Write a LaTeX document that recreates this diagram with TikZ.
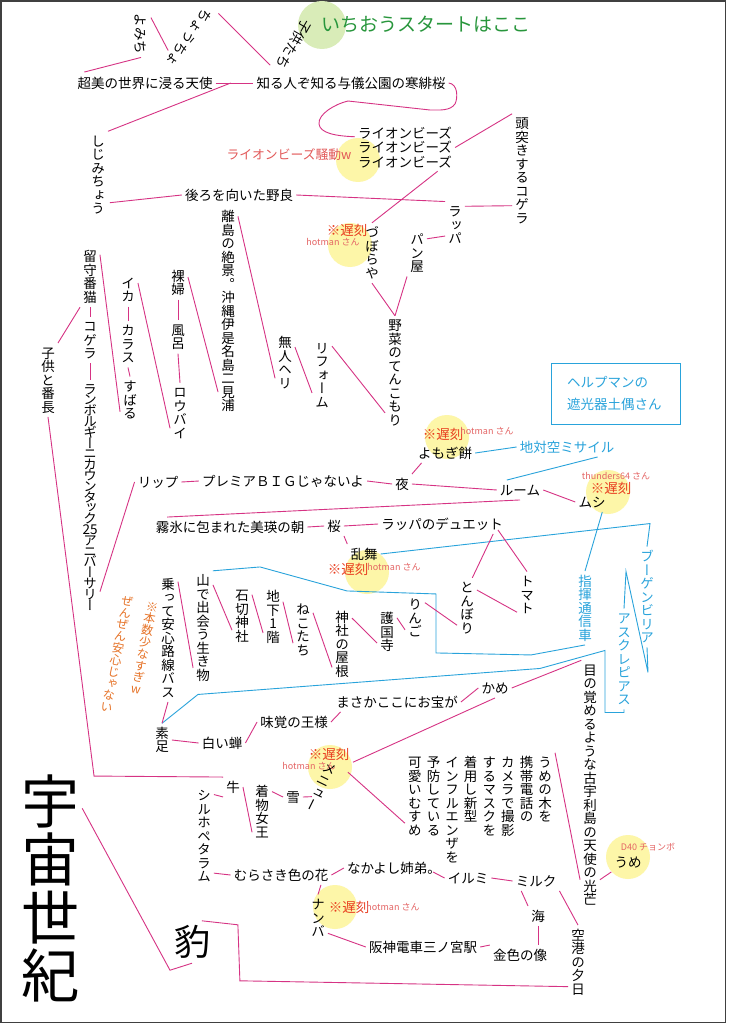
\documentclass[tikz,border=0pt]{standalone}
\usepackage{fontspec}
\setmainfont{Noto Sans CJK JP}
\newfontfamily\vjp[RawFeature=+vert]{Noto Sans CJK JP}
\usetikzlibrary{calc}
\definecolor{mag}{RGB}{214,51,132}
\definecolor{cyn}{RGB}{41,163,219}
\definecolor{latec}{RGB}{232,60,30}
\definecolor{hotc}{RGB}{228,100,100}
\definecolor{hotc2}{RGB}{226,88,88}
\definecolor{orgc}{RGB}{230,115,40}
\definecolor{grn}{RGB}{40,150,60}
\definecolor{grncirc}{RGB}{217,236,184}
\definecolor{ylw}{RGB}{253,246,168}
\makeatletter
\newdimen\vt@h \newdimen\vt@d \newdimen\vt@s
\newcommand\vtxt[2][1em]{%
  \vtop{\offinterlineskip\vjp
    \vt@s=#1\relax
    \vt@h=\dimexpr 0.38em+0.5\vt@s\relax
    \vt@d=\dimexpr 0.5\vt@s-0.38em\relax
    \@tfor\vt@c:=#2\do{%
      \setbox\z@\hbox to 1em{\hss\vt@c\hss}%
      \ht\z@=\vt@h \dp\z@=\vt@d
      \box\z@}}}
\makeatother
\tikzset{
  hw/.style={font=\fontsize{13.5}{15}\selectfont, inner sep=3pt, text height=11.9pt, text depth=1.6pt},
  vw/.style={font=\fontsize{13.5}{15}\selectfont, inner sep=3pt},
  con/.style={draw=mag, line width=0.9pt},
  bcon/.style={draw=cyn, line width=0.9pt},
  latelbl/.style={text=latec, font=\fontsize{13.5}{15}\selectfont, inner sep=0pt},
  hotlbl/.style={text=hotc, font=\fontsize{9}{10}\selectfont, inner sep=0pt},
  orgnote/.style={text=orgc, font=\fontsize{12}{13}\selectfont, inner sep=0pt, rotate=-11},
}
\begin{document}
\begin{tikzpicture}[x=1pt,y=-1pt]
\useasboundingbox (0,0) rectangle (728,1024);
\fill[white] (0,0) rectangle (728,1024);
\draw[line width=1.3pt, black!75] (1,1) rectangle (725.5,1022.5);
% highlight circles
\fill[grncirc] (322,25) circle[radius=24pt];
\foreach \p in {(358,160),(350,245),(447,437),(367,572),(608,492),(330,767),(335,907),(628,857)}
  \fill[ylw] \p circle[radius=22pt];
% nodes
\node[text=grn, font=\fontsize{19}{21}\selectfont, inner sep=0pt] (start) at (426,24) {いちおうスタートはここ};
\node[hw, rotate=-120] (kodomo) at (294,44) {子供たち};
\node[hw, rotate=-125] (chou) at (189,38) {ちょうちょ};
\node[hw, rotate=-90] (yomichi) at (141,34) {よみち};
\node[hw] (tenshi) at (145,83) {超美の世界に浸る天使};
\node[hw] (shiru) at (351,83) {知る人ぞ知る与儀公園の寒緋桜};
\node[vw] (shijimi) at (98,175) {\vtxt{しじみちょう}};
\node[hw] (ushiro) at (239,195) {後ろを向いた野良};
\node[font=\fontsize{13.5}{14.5}\selectfont, align=center, inner sep=3pt] (lion) at (405,147.5) {ライオンビーズ\\ライオンビーズ\\ライオンビーズ};
\node[text=hotc2, font=\fontsize{12.8}{14}\selectfont, inner sep=0pt] (liontxt) at (289,155) {ライオンビーズ騒動w};
\node[vw] (zutsuki) at (522,171) {\vtxt{頭突きするコゲラ}};
\node[vw] (rappa) at (455,225) {\vtxt{ラッパ}};
\node[vw] (zubora) at (372,253) {\vtxt{づぼらや}};
\node[vw] (panya) at (417,253) {\vtxt{パン屋}};
\node[vw] (yasai) at (395,373) {\vtxt{野菜のてんこもり}};
\node[vw] (reform) at (322,375) {\vtxt{リフォーム}};
\node[vw] (mujin) at (285,363) {\vtxt{無人ヘリ}};
\node[vw] (ritou) at (228,311) {\vtxt{離島の絶景。沖縄伊是名島二見浦}};
\node[vw] (rafu) at (178,283) {\vtxt{裸婦}};
\node[vw] (furo) at (178,337) {\vtxt{風呂}};
\node[vw] (roubai) at (180,413) {\vtxt{ロウバイ}};
\node[vw] (ika) at (128,290) {\vtxt{イカ}};
\node[vw] (karasu) at (128,344) {\vtxt{カラス}};
\node[vw] (subaru) at (130,400) {\vtxt{すばる}};
\node[vw] (rusuban) at (90,277) {\vtxt{留守番猫}};
\node[vw] (kogera) at (90,340) {\vtxt{コゲラ}};
\node[vw] (kodomoban) at (48,380) {\vtxt{子供と番長}};
\node[vw] (lambo) at (90,497) {\vtxt[0.8em]{ランボルギーニカウンタック{25}アニバーサリー}};
\node[hw] (lip) at (158,482) {リップ};
\node[hw] (premia) at (283,481) {プレミアＢＩＧじゃないよ};
\node[hw] (yoru) at (402,484) {夜};
\node[hw] (yomogi) at (445,453) {よもぎ餅};
\node[hw, text=cyn] (chitai) at (567,447) {地対空ミサイル};
\node[hw] (room) at (520,490) {ルーム};
\node[hw] (mushi) at (592,502) {ムシ};
\node[hw] (muhyou) at (230,527) {霧氷に包まれた美瑛の朝};
\node[hw] (sakura) at (334,526) {桜};
\node[hw] (duet) at (442,524) {ラッパのデュエット};
\node[hw] (ranbu) at (364,554) {乱舞};
\node[vw, text=cyn] (bougain) at (647,597) {\vtxt{ブーゲンビリア}};
\node[vw, text=cyn] (ascle) at (624,659) {\vtxt{アスクレピアス}};
\node[vw, text=cyn] (shiki) at (585,608) {\vtxt{指揮通信車}};
\node[draw=cyn, line width=1pt, text=cyn, font=\fontsize{13.5}{22}\selectfont, align=left, text width=97pt, inner xsep=16pt, minimum height=61pt] (help) at (615.5,393.5) {ヘルプマンの\\遮光器土偶さん};
\node[vw] (yama) at (203,628) {\vtxt{山で出会う生き物}};
\node[vw] (noru) at (168,638) {\vtxt{乗って安心路線バス}};
\node[vw] (ishikiri) at (242,616) {\vtxt{石切神社}};
\node[vw] (chika) at (273,617) {\vtxt{地下1階}};
\node[vw] (nekotachi) at (303,630) {\vtxt{ねこたち}};
\node[vw] (jinja) at (342,644) {\vtxt{神社の屋根}};
\node[vw] (gokoku) at (387,632) {\vtxt{護国寺}};
\node[vw] (ringo) at (415,618) {\vtxt{りんご}};
\node[vw] (tonbori) at (467,608) {\vtxt{とんぼり}};
\node[vw] (tomato) at (527,595) {\vtxt{トマト}};
\node[orgnote] (note1) at (144,648) {\vtxt{※本数少なすぎw}};
\node[orgnote] (note2) at (117,654) {\vtxt{ぜんぜん安心じゃない}};
\node[hw] (masaka) at (397,702) {まさかここにお宝が};
\node[hw] (mikaku) at (294,722) {味覚の王様};
\node[hw] (semi) at (222,743) {白い蝉};
\node[vw] (suashi) at (162,740) {\vtxt{素足}};
\node[hw] (kame) at (495,688) {かめ};
\node[vw] (me) at (590,785) {\vtxt{目の覚めるような古宇利島の天使の光芒}};
\node[vw, rotate=-26] (menu) at (320.75,787) {\vtxt{メニュー}};
\node[vw] (musume) at (480,810) {\hbox{\vtxt{可愛いむすめ}\hskip5.1pt\vtxt{予防している}\hskip5.1pt\vtxt{インフルエンザを}\hskip5.1pt\vtxt{着用し新型}\hskip5.1pt\vtxt{するマスクを}\hskip5.1pt\vtxt{カメラで撮影}\hskip5.1pt\vtxt{携帯電話の}\hskip5.1pt\vtxt{うめの木を}}};
\node[hw] (umeme) at (628,862) {うめ};
\node[hw] (yuki) at (293,797) {雪};
\node[vw] (kimono) at (262,812) {\vtxt{着物女王}};
\node[hw] (ushi) at (233,787) {牛};
\node[vw] (silho) at (204,836) {\vtxt{シルホペタラム}};
\node[hw] (murasaki) at (281,875) {むらさき色の花};
\node[hw] (nakayoshi) at (394,868) {なかよし姉弟。};
\node[hw] (irumi) at (468,878) {イルミ};
\node[hw] (milk) at (536,881) {ミルク};
\node[hw] (umi) at (538,916) {海};
\node[hw] (kiniro) at (520,955) {金色の像};
\node[hw] (hanshin) at (423,947) {阪神電車三ノ宮駅};
\node[vw] (nanba) at (318,918) {\vtxt{ナンバ}};
\node[vw] (kuukou) at (578,962) {\vtxt{空港の夕日}};
\node[font=\fontsize{36}{38}\selectfont, inner sep=3pt, text height=31.7pt, text depth=4.3pt] (hyou) at (192,942) {豹};
\node[font=\fontsize{58}{60}\selectfont, inner sep=3pt] (uchuu) at (50,888) {\vtxt{宇宙世紀}};
% late notes
\node[latelbl] (l1) at (347,230) {※遅刻};
\node[hotlbl] (h1) at (333,242) {hotman さん};
\node[latelbl] (l2) at (443,434) {※遅刻};
\node[hotlbl] (h2) at (487,431) {hotman さん};
\node[latelbl] (l3) at (348,569) {※遅刻};
\node[hotlbl] (h3) at (394,567) {hotman さん};
\node[hotlbl] (h4) at (616,476) {thunders64 さん};
\node[latelbl] (l4) at (611,488) {※遅刻};
\node[latelbl] (l5) at (329,754) {※遅刻};
\node[hotlbl] (h5) at (309,766) {hotman さん};
\node[latelbl] (l6) at (349,907) {※遅刻};
\node[hotlbl] (h6) at (393,907) {hotman さん};
\node[hotlbl] (d40) at (648,847) {D40 チョンボ};
% connectors
\draw[con] (kodomo.south east) -- (chou.north west);
\draw[con] ($(chou.south)!0.6!(chou.south east)$) -- ($(yomichi.north west)!0.15!(yomichi.north east)$);
\draw[con] (yomichi.east) -- ($(tenshi.north west)+(10,-1)$);
\draw[con] (tenshi.east) -- (shiru.west);
\coordinate (j1) at ($(tenshi.east)!0.4!(shiru.west)$);
\draw[con] (j1) -- (shijimi.north east);
\draw[con] ($(shijimi.south east)+(2,-16)$) -- (ushiro.west);
\draw[con] (ushiro.east) -- (rappa.north west);
\draw[con] (rappa.62.8) -- (zutsuki.254.8);
\draw[con] (lion.east) -- (zutsuki.north west);
\draw[con] (shiru.east) .. controls (458,84) and (458,98) .. (455,104) .. controls (450,111) and (440,110) .. (430,110) -- (348,101) .. controls (335,104) and (318,114) .. (319,124) .. controls (320,133) and (335,136) .. ($(lion.north west)+(0,13)$);
\draw[con] (lion.-36.6) -- (zubora.north);
\draw[con] (rappa.228.4) -- (panya.55.1);
\draw[con] (zubora.south) -- (yasai.north);
\draw[con] (panya.south west) -- (yasai.north);
\draw[con] (yasai.256) -- (reform.71.4);
\draw[con] (reform.241.6) -- (mujin.58.6);
\draw[con] (mujin.237) -- (ritou.84.3);
\draw[con] (ritou.263.2) -- (rafu.31.6);
\draw[con] (rafu.south) -- (furo.north);
\draw[con] (furo.south) -- (roubai.north);
\draw[con] (roubai.237) -- (ika.35.7);
\draw[con] (ika.south) -- (karasu.north);
\draw[con] (karasu.south) -- (subaru.north);
\draw[con] (subaru.230.9) -- (rusuban.66.1);
\draw[con] (rusuban.south west) -- (kodomoban.north east);
\draw[con] (rusuban.south) -- (kogera.north);
\draw[con] (kogera.south) -- (lambo.north);
\draw[con] (lambo.-84) -- (lip.west);
\draw[con] (lip.east) -- (premia.west);
\draw[con] (premia.east) -- (yoru.west);
\draw[con] (yoru.north east) -- (yomogi.203);
\draw[con] (yoru.east) -- (room.west);
\draw[bcon] (yomogi.east) -- (chitai.west);
\draw[bcon] (chitai.-18) -- (room.143.1);
\draw[con] (room.east) -- (mushi.west);
\draw[con] (room.south) -- (muhyou.171.5);
\draw[con] (muhyou.east) -- (sakura.west);
\draw[con] (sakura.east) -- (duet.west);
\draw[con] (sakura.south east) -- (ranbu.north west);
\draw[bcon] (ranbu.east) -- ($(bougain.north)+(3,-23)$) -- (bougain.north);
\draw[bcon] (bougain.south) -- ++(1,25) -- ($(ascle.north)+(2,-37)$) -- (ascle.north);
\draw[bcon] (ascle.south) -- ++(0,3) -- ++(-19,0) -- ++(0,-62) -- ++(-65,18) -- ++(-342,26) -- (suashi.north);
\draw[bcon] (mushi.-44.3) -- (shiki.north);
\draw[bcon] (shiki.south) -- ++(-54,10) -- ++(-95,-2) -- ++(0,-59) -- ++(-89,-3) -- ++(-87,-24) -- (yama.north east);
\draw[con] (yama.256) -- (noru.80);
\draw[con] (yama.77.2) -- (ishikiri.235.1);
\draw[con] (ishikiri.65.1) -- (chika.238.6);
\draw[con] (chika.57) -- (nekotachi.233.1);
\draw[con] (nekotachi.60.2) -- (jinja.247.9);
\draw[con] (jinja.69.4) -- (gokoku.228.4);
\draw[con] (gokoku.55.1) -- (ringo.230.9);
\draw[con] (ringo.57) -- (tonbori.240.2);
\draw[con] (duet.-11.5) -- (tonbori.80.5);
\draw[con] (tonbori.61.6) -- (tomato.240.2);
\draw[con] ($(duet.south east)+(-8,-4)$) -- (tomato.north);
\draw[con] (noru.south) -- (suashi.north);
\draw[con] (suashi.east) -- (semi.west);
\draw[con] (semi.east) -- (mikaku.west);
\draw[con] (mikaku.east) -- (masaka.190.2);
\draw[con] (masaka.east) -- (kame.west);
\draw[con] (kame.east) -- (me.94.8);
\draw[con] (kame.south) -- ($(menu.north east)+(10,-2)$);
\draw[con] ($(menu.north east)+(5,8)$) -- (musume.190);
\draw[con] (musume.north east) -- (me.264.3);
\draw[con] (me.-84.3) -- (umeme.south west);
\draw[con] (yuki.east) -- ($(menu.west)+(0,14)$);
\draw[con] (kimono.64) -- (yuki.west);
\draw[con] (ushi.east) -- (kimono.244);
\draw[con] (kodomoban.south) -- ($(ushi.north west)+(-129,-1)$) -- (ushi.north west);
\draw[con] ($(silho.north east)+(0,9)$) -- (ushi.south west);
\draw[con] (silho.-75.2) -- (murasaki.west);
\draw[con] (murasaki.east) -- (nakayoshi.west);
\draw[con] (murasaki.-14.8) -- (nanba.north);
\draw[con] (nanba.-57) -- (hanshin.west);
\draw[con] (hanshin.east) -- (kiniro.north west);
\draw[con] ($(nakayoshi.east)+(-11,4)$) -- (irumi.west);
\draw[con] (irumi.east) -- (milk.west);
\draw[con] (milk.south east) -- (kuukou.north);
\draw[con] (milk.214.9) -- (umi.north west);
\draw[con] (umi.south) -- (umi.south |- kiniro.north);
\draw[con] (kuukou.248.7) -- ($(hyou.65)+(38,60)$) -- ($(hyou.65)+(36,4)$) -- (hyou.65);
\draw[con] (uchuu.68.2) -- ($(hyou.south)+(-22,7)$) -- (hyou.south);
\end{tikzpicture}
\end{document}
